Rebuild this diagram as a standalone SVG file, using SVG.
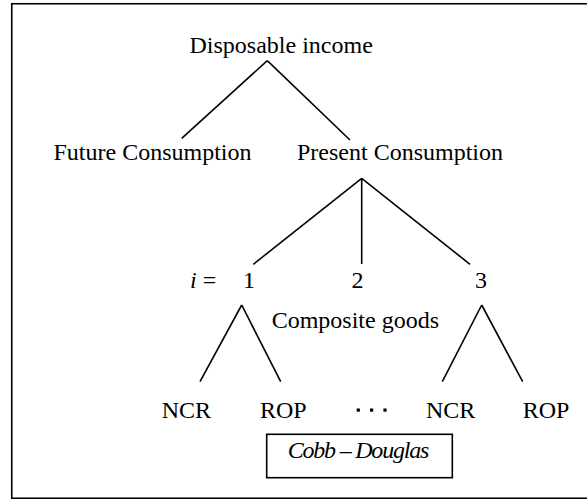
<svg xmlns="http://www.w3.org/2000/svg" width="587" height="499" viewBox="0 0 587 499">
<style>
text{font-family:"Liberation Serif","Times New Roman",serif;font-size:24px;fill:#000}
.it{font-style:italic}
.ln{stroke:#000;stroke-width:1.6;fill:none;stroke-linecap:butt}
</style>
<rect x="0" y="0" width="587" height="499" fill="#fff"/>
<rect id="frame" x="11.75" y="3.75" width="600" height="494.5" fill="none" stroke="#000" stroke-width="1.6"/>
<g id="connectors" class="ln">
<line x1="267.3" y1="60.7" x2="181.7" y2="138.3"/>
<line x1="267.3" y1="60.7" x2="350" y2="140"/>
<line x1="361.7" y1="178.3" x2="253.3" y2="264.3"/>
<line x1="361.7" y1="178.3" x2="361.7" y2="264"/>
<line x1="361.7" y1="178.3" x2="470" y2="264.3"/>
<line x1="241.7" y1="305" x2="200" y2="381.7"/>
<line x1="241.7" y1="305" x2="280.7" y2="381.7"/>
<line x1="481.7" y1="305" x2="442.3" y2="381.7"/>
<line x1="481.7" y1="305" x2="522.7" y2="381.7"/>
</g>
<g id="disposable"><text x="189.5" y="53.3">Disposable income</text></g>
<g id="future"><text x="53.5" y="160">Future Consumption</text></g>
<g id="present"><text x="297" y="160">Present Consumption</text></g>
<g id="index"><text x="190" y="288.3"><tspan class="it">i</tspan> =</text></g>
<g id="good1"><text x="243" y="288.3">1</text></g>
<g id="good2"><text x="351.5" y="288.3">2</text></g>
<g id="good3"><text x="475" y="288.3">3</text></g>
<g id="composite"><text x="271.7" y="328">Composite goods</text></g>
<g id="ncr1"><text x="161.7" y="418.3">NCR</text></g>
<g id="rop1"><text x="260" y="418.3">ROP</text></g>
<g id="dots"><rect x="356.7" y="408.5" width="3.2" height="3.2"/><rect x="370" y="408.5" width="3.2" height="3.2"/><rect x="383.4" y="408.5" width="3.2" height="3.2"/></g>
<g id="ncr2"><text x="426" y="418.3">NCR</text></g>
<g id="rop2"><text x="522.7" y="418.3">ROP</text></g>
<g id="cobb"><rect x="266.7" y="434.3" width="185.6" height="43.4" fill="none" stroke="#000" stroke-width="1.6"/><text class="it" x="287.7" y="458.3" textLength="141.6" lengthAdjust="spacing">Cobb – Douglas</text></g>
</svg>
